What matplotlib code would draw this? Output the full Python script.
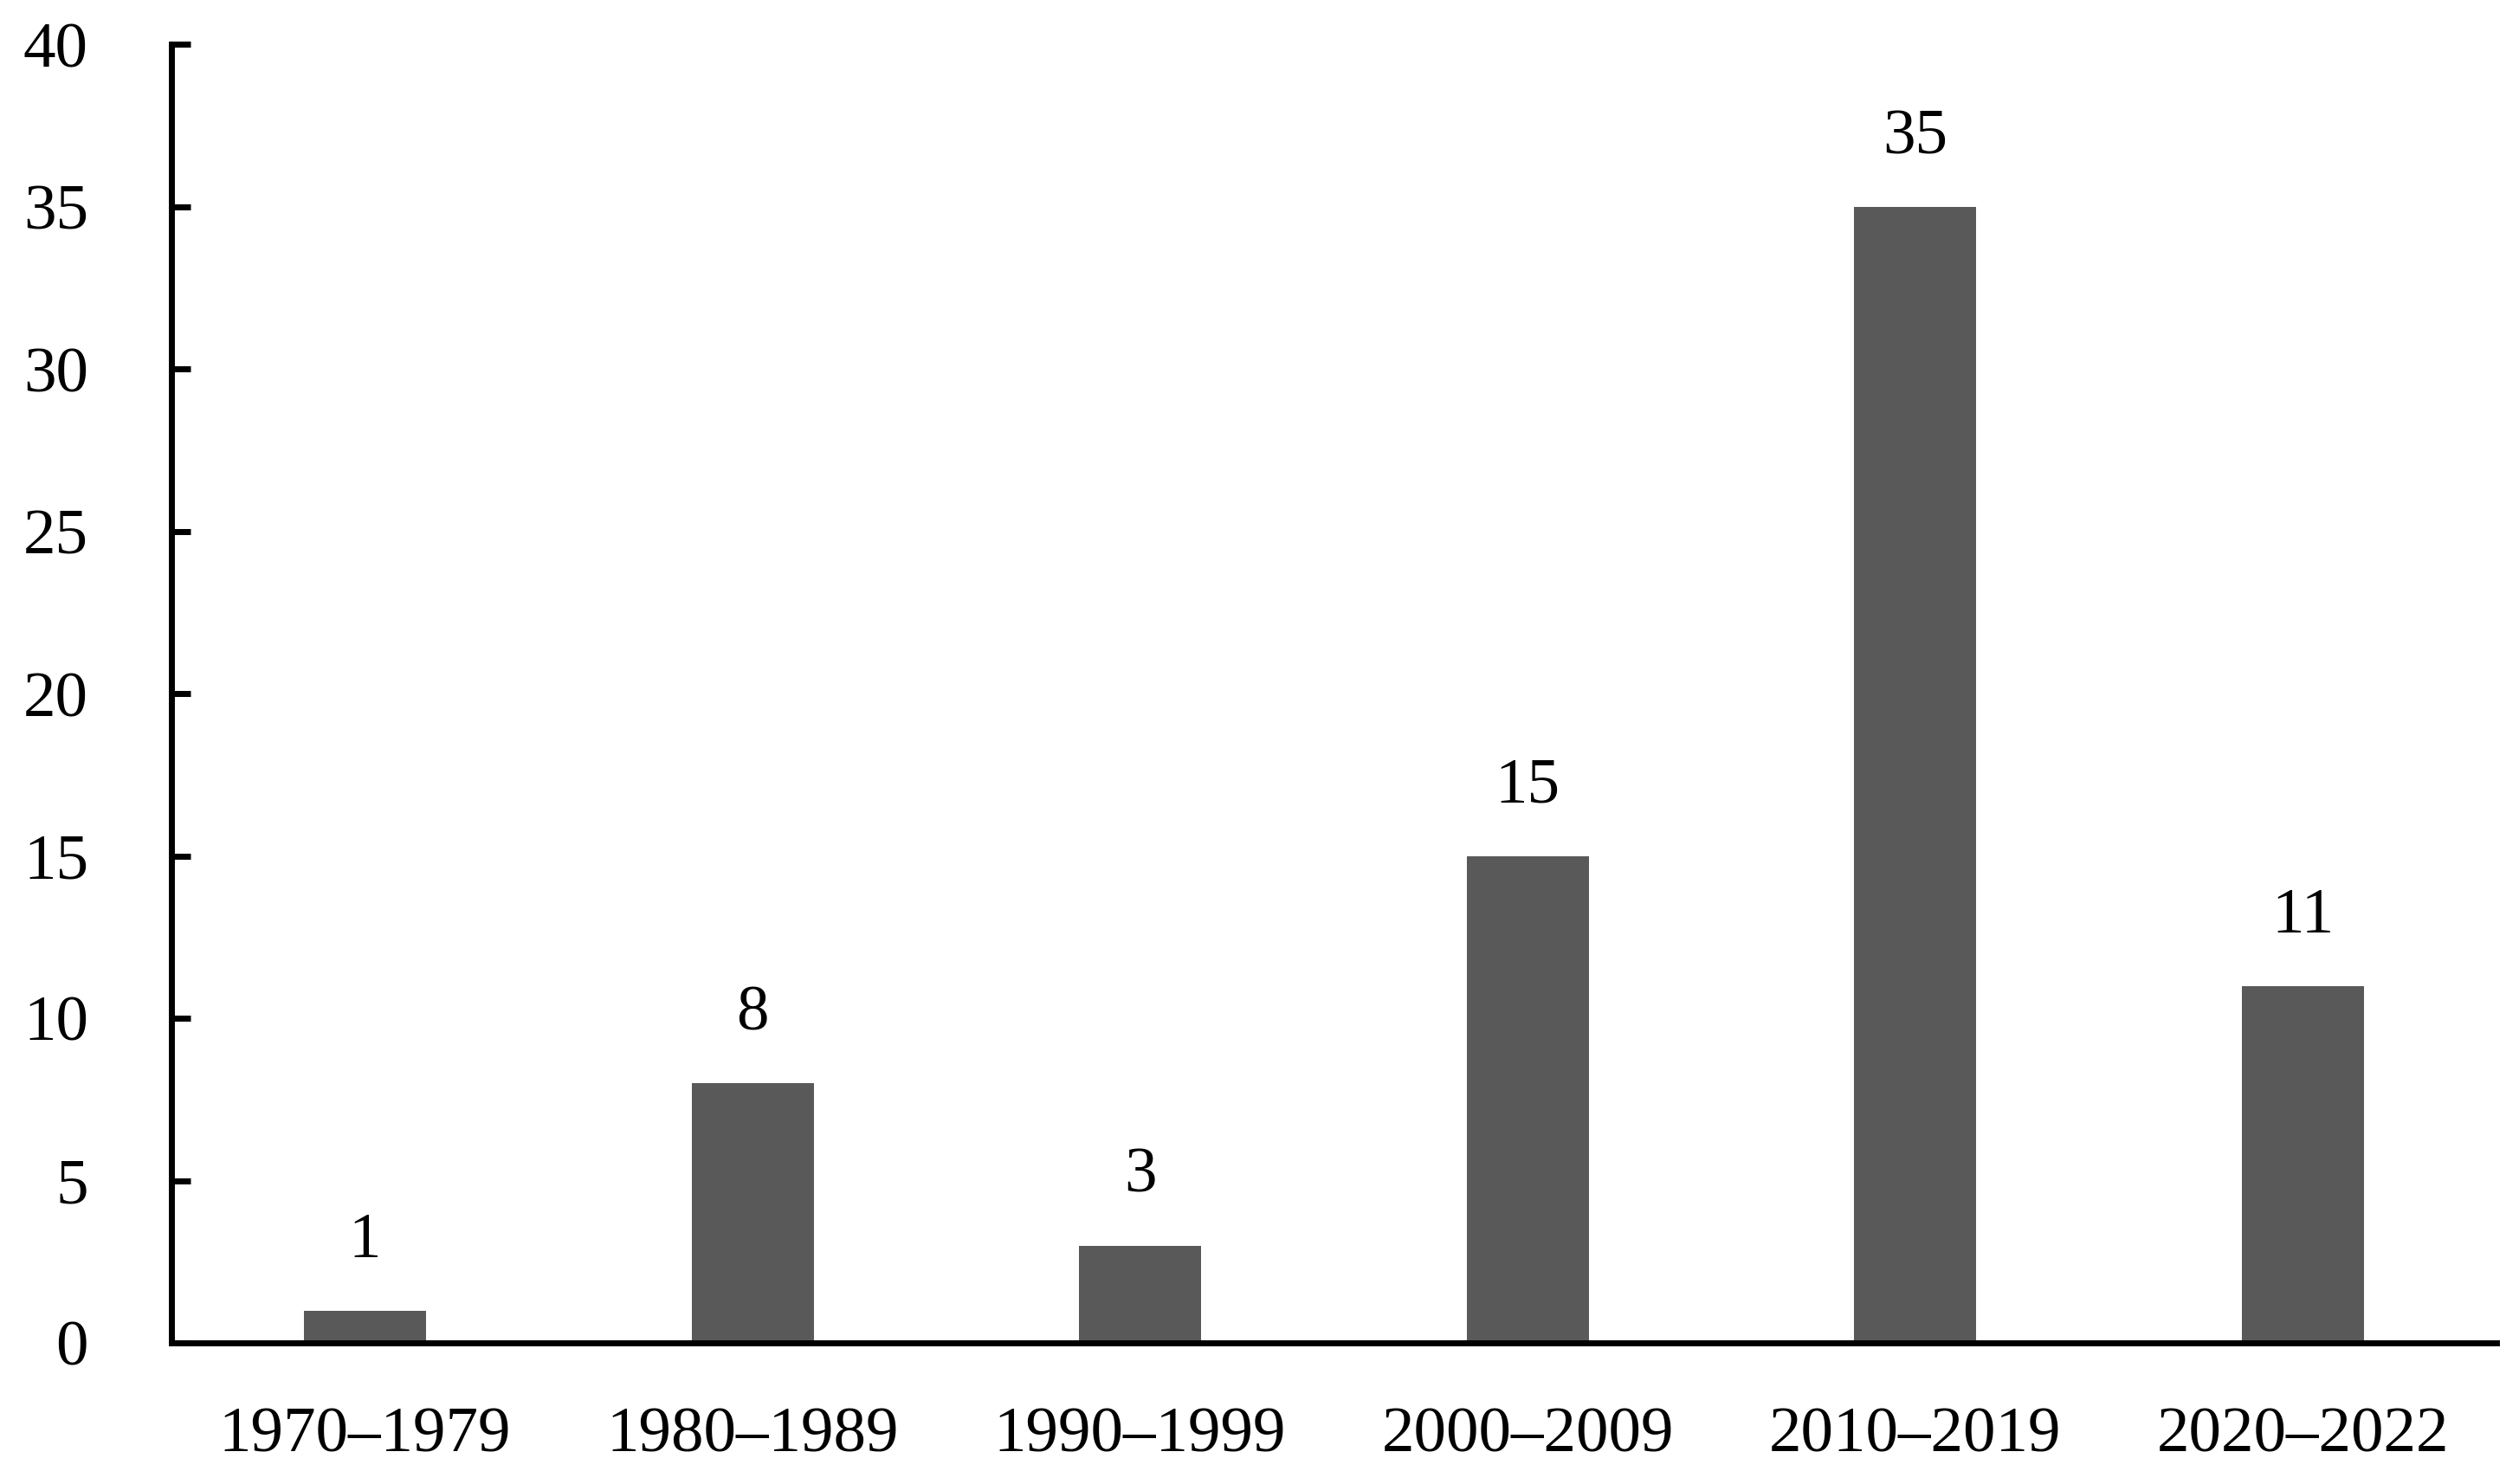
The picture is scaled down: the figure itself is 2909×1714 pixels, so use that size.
import matplotlib.pyplot as plt
import numpy as np

periods = ["1970–1979", "1980–1989", "1990–1999", "2000–2009", "2010–2019", "2020–2022"]
counts = [1, 8, 3, 15, 35, 11]
y_ticks = [0, 5, 10, 15, 20, 25, 30, 35, 40]

plt.rcParams["font.family"] = ["Liberation Serif", "DejaVu Serif"]


def create_plot():
    fig = plt.figure(figsize=(29.09, 17.14), dpi=100)
    ax = fig.add_axes([0.068, 0.095, 0.923, 0.875])
    x = np.arange(len(periods))
    bars = ax.bar(x, counts, width=0.315, color="#595959", zorder=2)
    for rect, val in zip(bars, counts):
        ax.annotate(
            str(val),
            (rect.get_x() + rect.get_width() / 2, rect.get_height()),
            xytext=(0, 33),
            textcoords="offset points",
            ha="center",
            va="bottom",
            fontsize=54,
        )
    ax.set_xlim(-0.5, len(periods) - 0.5)
    ax.set_ylim(0, 40)
    ax.set_xticks(x)
    ax.set_xticklabels(periods)
    ax.set_yticks(y_ticks)
    for side in ["top", "right"]:
        ax.spines[side].set_visible(False)
    for side in ["left", "bottom"]:
        ax.spines[side].set_linewidth(5)
    ax.tick_params(axis="y", direction="in", length=16, width=5, pad=69, labelsize=54)
    ax.tick_params(axis="x", length=0, pad=53, labelsize=54)
    fig.savefig("out.png", dpi=100)


create_plot()
